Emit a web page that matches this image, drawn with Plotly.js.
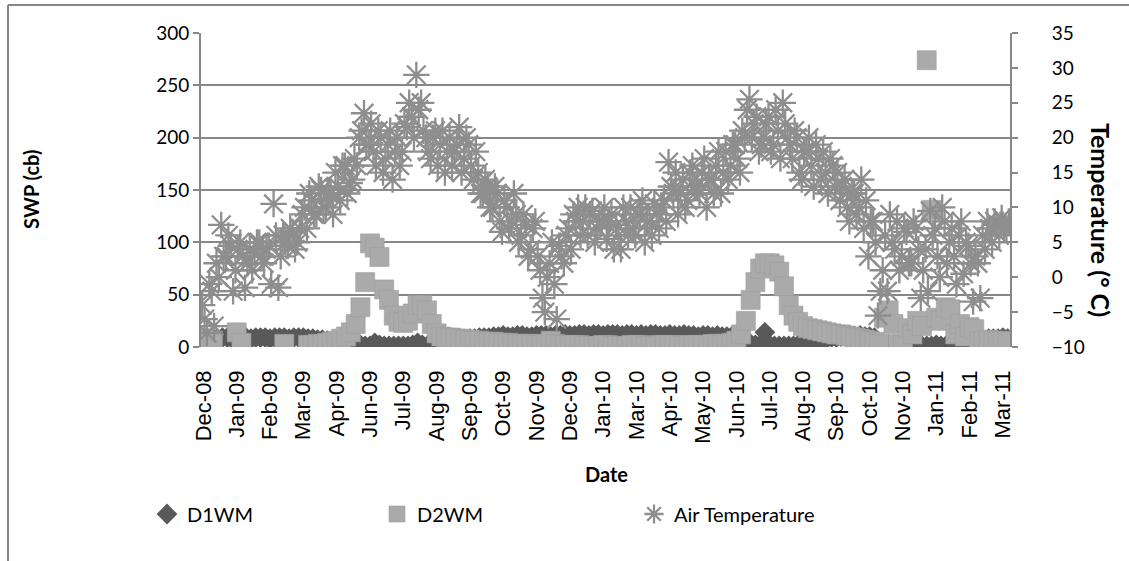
<!DOCTYPE html>
<html>
<head>
<meta charset="utf-8">
<script src="https://cdn.plot.ly/plotly-3.0.1.min.js"></script>
<style>
  html, body { margin: 0; padding: 0; background: #ffffff; }
  #chart { width: 1129px; height: 561px; }
</style>
</head>
<body>
<div id="chart"></div>
<script>
// Category tick labels (one label every 7 categories)
const tickLabels = ['Dec-08','Jan-09','Feb-09','Mar-09','Apr-09','Jun-09','Jul-09','Aug-09','Sep-09','Oct-09','Nov-09','Dec-09','Jan-10','Mar-10','Apr-10','May-10','Jun-10','Jul-10','Aug-10','Sep-10','Oct-10','Nov-10','Jan-11','Feb-11','Mar-11'];
const labelStep = 7;

// SWP (cb) – D1WM
const d1wm = [
  8,8,9,8,9,9,8,8,9,9, 8,9,9,9,8,9,9,9,8,9, 9,9,8,8,7,
  7,6,5,4,3,3,
  2,2,2,1,1,4,2,1,1,1, 1,1,1,2,4,2,1,1,1,
  2,3,4,5,6,7,8,8,9,9,9,
  10,10,11,10,10,11,11,10,10,11, 11,11,10,11,11,12,11,11,12,12,
  11,12,12,11,12,12,12,11,12,12, 11,12,11,12,12,11,11,12,11,11,
  12,11,11,10,11,11,10,11,10,10, 10,9,
  8,5,3,2,2,
  14,
  2,1,1,1,1,1,
  2,3,4,5,6,7,8,9,9,10,
  10,10,10,11,10,10,9,
  2,1,2,1,1,2,1,1,2,1, 1,1,2,1,1,2,1,1,1,2, 2,3,
  6,8,8,8,9,8
];

// SWP (cb) – D2WM
const d2wm = [
  8,5,6,
  null,null,null,null,
  14,4,
  null,null,null,null,null,null,null,null,
  3,
  null,null,null,null,
  2,2,3,3,4,5,6,8,10,
  14,22,38,62,99,95,86,55,45,30,24,23,25,32,40,40,35,22,13,10,
  9,9,8,8,7,7,6,6,5,5,5,4,4,4,3,3,3,3,3,2,2,3,6,3,2,
  2,2,2,2,1,1,1,1,2,2, 1,1,1,1,2,2,2,1,1,1, 2,2,2,2,1,1,2,2,2,2, 2,3,3,3,
  3,4,6,12,25,45,62,75,80,80, 78,72,58,40,30,24,20,18,17,16, 15,14,13,12,12,11,10,9,8,7, 6,
  5,3,28,35,22,3,2,18,12,25, 20,274,131,28,25,38,36,12,22,10, 19,17,5,6,7,6,5,6,5
];

// Air temperature (°C) – first reading per category
const airTempA = [
  -4,-8,-2,2,7.5,3,4.5,1,5,-1.5,
  4,3.5,5,2,4.5,10.5,-1.5,6,4.5,6.5,
  5,9,7,11,9,12.5,10,12,15,11,
  16,13.5,17,20,23.5,19,18,21,15,19,
  14,20,18,21.5,23,29,25,20,17,21,
  19,15,20,18,21.5,17,19,14,15,12,
  13,10,12,6.5,10,8,9,6,7.5,4,
  8,1,-5,2,-1,4.5,2,7,9,10,
  8,6,9.5,7,8,5.5,9,7.5,4,8,
  10,6,9,5,8,10.5,7,11,16.5,12,
  9,14,11,16,13,15,10,14,16,12,
  18,16,19,15,20,25.5,22,18,20,23,
  19,21,25,20,17,20,14,18,16,19,
  14,15,17,13,11,14,8,12,10,7,
  3,8,-5.5,1,-2,5,8,3,6.5,2,
  7,-3,4,9.5,7,0,8,5,3,6,
  0.5,4.5,-3.5,2,6,8,5,7.5,8.5,7
];

// Air temperature (°C) – second reading per category
const airTempB = [
  -6,-1,-7,0,3,6,-2,4,3,2,
  1,5,3,4,-1,6,3,5,7,4,
  7,10,12,9,13,10,12,9,13,16,
  12,14,16,21,19,22,16,20,17,21,
  18,16,22,25,20,24,21,18,20,16,
  21,18,16,19,15,20,16,18,12,14,
  10,13,8,11,7,12,5,9,3,7,
  3,-3,0,5,-6,3,6,4,8,6,
  10,9,5,8,10,8,4,6,10,6,
  7,9,11,8,6,9,10,8,13,15,
  12,10,15,13,12,17,14,12,18,15,
  14,19,17,21,24,20,23,19,22,18,
  24,17,22,19,21,15,18,20,13,17,
  18,12,16,15,13,10,12,9,14,11,
  8,5,-2,6,9,4,1,7,2,8,
  4,1,-2,6,3,10,2,7,-1,8,
  5,2,3,-3,4,7,8,6,7,8
];

const idx = d1wm.map((_, i) => i);
const tempX = idx.map(i => i - 0.25).concat(idx.map(i => i + 0.25));
const tempY = airTempA.concat(airTempB);
const tickVals = tickLabels.map((_, k) => k * labelStep);

const gray = '#878787';
const W = 1129, H = 561;
const M = {l: 201, r: 119, t: 33, b: 214};
const PW = W - M.l - M.r, PH = H - M.t - M.b;
const px = x => (x - M.l) / PW;
const py = y => (H - M.b - y) / PH;

const fontMain = 'Lato, "Open Sans", sans-serif';

const traces = [
  {
    name: 'D1WM', x: idx, y: d1wm, type: 'scatter', mode: 'markers',
    marker: {symbol: 'diamond', size: 16, color: '#595959'},
    legend: 'legend', yaxis: 'y'
  },
  {
    name: 'D2WM', x: idx, y: d2wm, type: 'scatter', mode: 'markers',
    marker: {symbol: 'square', size: 19, color: '#aaaaaa', line: {width: 0.6, color: '#9e9e9e'}},
    legend: 'legend2', yaxis: 'y'
  },
  {
    name: 'Air Temperature', x: tempX, y: tempY, type: 'scatter', mode: 'markers',
    marker: {symbol: 'asterisk-open', size: 22, color: '#8e8e8e', line: {width: 2.3, color: '#8f8f8f'}},
    legend: 'legend3', yaxis: 'y2'
  }
];

const legendBase = {
  orientation: 'h', yanchor: 'middle', xanchor: 'left',
  font: {family: fontMain, size: 20, color: '#000'},
  bgcolor: 'rgba(0,0,0,0)', borderwidth: 0
};

const layout = {
  width: W, height: H,
  margin: M,
  paper_bgcolor: '#ffffff', plot_bgcolor: '#ffffff',
  showlegend: true,
  legend:  Object.assign({}, legendBase, {x: px(147), y: py(514)}),
  legend2: Object.assign({}, legendBase, {x: px(377), y: py(514)}),
  legend3: Object.assign({}, legendBase, {x: px(634), y: py(514)}),
  xaxis: {
    range: [-0.5, idx.length - 0.5],
    tickmode: 'array', tickvals: tickVals, ticktext: tickLabels,
    tickangle: -90, ticks: '', ticklabelstandoff: 18,
    tickfont: {family: '"Liberation Sans", Arial, sans-serif', size: 22, color: '#000'},
    showgrid: false, zeroline: false, showline: false, fixedrange: true
  },
  yaxis: {
    range: [0, 300], dtick: 50, tick0: 0,
    showgrid: true, gridcolor: gray, gridwidth: 2,
    showline: true, linecolor: gray, linewidth: 2,
    ticks: 'outside', ticklen: 6, tickcolor: gray, tickwidth: 2,
    tickfont: {family: fontMain, size: 19, color: '#000'},
    zeroline: false, fixedrange: true
  },
  yaxis2: {
    range: [-10, 35], dtick: 5, tick0: -10,
    overlaying: 'y', side: 'right',
    showgrid: false, showline: true, linecolor: gray, linewidth: 2,
    ticks: 'outside', ticklen: 6, tickcolor: gray, tickwidth: 2,
    ticklabelstandoff: 30,
    tickfont: {family: fontMain, size: 19, color: '#000'},
    zeroline: false, fixedrange: true
  },
  annotations: [
    {text: '<b>SWP (cb)</b>', xref: 'paper', yref: 'paper', x: px(31), y: py(190),
     xanchor: 'center', yanchor: 'middle',
     textangle: -90, showarrow: false, font: {family: fontMain, size: 20, color: '#000'}},
    {text: '<b>Temperature (° C)</b>', xref: 'paper', yref: 'paper', x: px(1101), y: py(220),
     xanchor: 'center', yanchor: 'middle',
     textangle: 90, showarrow: false, font: {family: fontMain, size: 25, color: '#000'}},
    {text: '<b>Date</b>', xref: 'paper', yref: 'paper', x: px(606), y: py(474),
     xanchor: 'center', yanchor: 'middle',
     showarrow: false, font: {family: fontMain, size: 20, color: '#000'}}
  ],
  shapes: [
    {type: 'line', xref: 'paper', yref: 'paper', x0: px(8), x1: px(1135), y0: py(5), y1: py(5),
     line: {color: gray, width: 2}},
    {type: 'line', xref: 'paper', yref: 'paper', x0: px(8), x1: px(8), y0: py(5), y1: py(570),
     line: {color: gray, width: 2}}
  ]
};

Plotly.newPlot('chart', traces, layout, {displayModeBar: false, staticPlot: true});
</script>
</body>
</html>
